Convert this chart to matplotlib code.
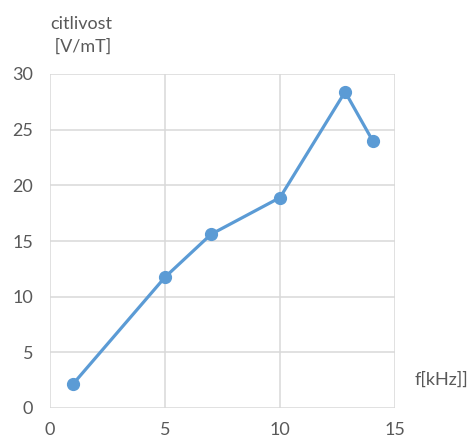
import matplotlib.pyplot as plt

freq = [1, 5, 7, 10, 12.83, 14.03]
sens = [2.15, 11.75, 15.6, 18.9, 28.4, 24.0]
x_ticks = [0, 5, 10, 15]
y_ticks = [0, 5, 10, 15, 20, 25, 30]

plt.rcParams['font.family'] = ['Lato', 'DejaVu Sans']
blue = '#5b9bd5'
grey = '#595959'

fig = plt.figure(figsize=(4.76, 4.43), dpi=100)
ax = fig.add_axes([50 / 476, 35 / 443, 345 / 476, 334 / 443])
ax.plot(freq, sens, color=blue, lw=2.3, marker='o', ms=8.5, zorder=3)

ax.set_xlim(0, 15)
ax.set_ylim(0, 30)
ax.set_xticks(x_ticks)
ax.set_yticks(y_ticks)
ax.grid(True, color='#d9d9d9', lw=1.1)
for s in ax.spines.values():
    s.set_visible(False)
ax.tick_params(length=0, labelsize=13, labelcolor=grey)
ax.tick_params(axis='y', pad=12)
ax.tick_params(axis='x', pad=10)

fig.text(50 / 476, 1 - 35 / 443, 'citlivost\n [V/mT]', fontsize=13, color=grey,
         ha='left', va='center', linespacing=1.5)
fig.text(415 / 476, 1 - 380 / 443, 'f[kHz]]', fontsize=13, color=grey,
         ha='left', va='center')

fig.savefig('out.png', dpi=100)
